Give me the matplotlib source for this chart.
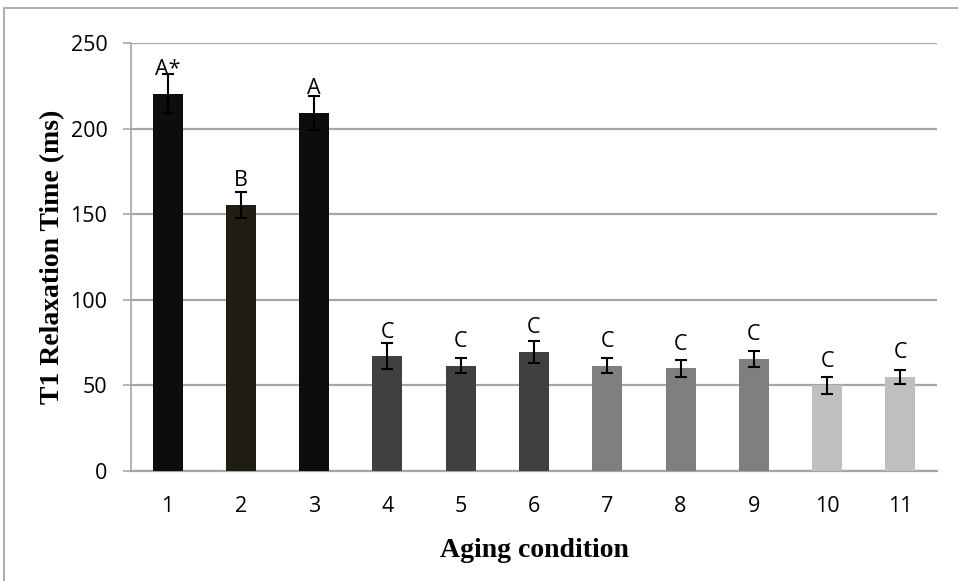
import matplotlib
matplotlib.use("Agg")
import matplotlib.pyplot as plt
from matplotlib.patches import Rectangle

# Data
conditions = ["1", "2", "3", "4", "5", "6", "7", "8", "9", "10", "11"]
t1_means = [220.5, 155.5, 209, 67, 61.5, 69.5, 61.5, 60, 65.5, 50, 55]
t1_errors = [11.5, 7.5, 10, 7.5, 4.5, 6.5, 4.5, 5, 4.5, 5, 4]
letters = ["A*", "B", "A", "C", "C", "C", "C", "C", "C", "C", "C"]
bar_colors = ["#0d0d0d", "#201d14", "#0d0d0d",
              "#404040", "#404040", "#404040",
              "#7f7f7f", "#7f7f7f", "#7f7f7f",
              "#bfbfbf", "#bfbfbf"]

grid_gray = "#a6a6a6"
label_font = "Open Sans"
title_font = "Liberation Serif"

fig = plt.figure(figsize=(9.58, 5.81), dpi=100)
ax = fig.add_axes([131 / 958, 1 - 471 / 581, (937 - 131) / 958, (471 - 43) / 581])

x = list(range(len(conditions)))
ax.bar(x, t1_means, width=0.41, color=bar_colors, zorder=3,
       yerr=t1_errors, error_kw=dict(ecolor="black", elinewidth=1.5,
                                     capsize=4.5, capthick=1.5, zorder=4))

# significance letters above each bar
for xi, val, lab in zip(x, t1_means, letters):
    ax.annotate(lab, (xi, val), xytext=(0, 13.5), textcoords="offset points",
                ha="center", va="baseline", fontsize=15.5, family=label_font,
                zorder=5)

ax.set_xlim(-0.5, len(conditions) - 0.5)
ax.set_ylim(0, 250)
ax.set_yticks([0, 50, 100, 150, 200, 250])
ax.set_xticks(x)
ax.set_xticklabels(conditions)

ax.yaxis.grid(True, color=grid_gray, linewidth=1.6, zorder=0)
ax.set_axisbelow(True)
for side in ["top", "right"]:
    ax.spines[side].set_visible(False)
ax.spines["left"].set_color(grid_gray)
ax.spines["bottom"].set_color(grid_gray)
ax.spines["left"].set_linewidth(1.2)
ax.spines["bottom"].set_linewidth(1.6)

ax.tick_params(axis="y", length=6, width=1.2, color=grid_gray, pad=11,
               labelsize=15.5)
ax.tick_params(axis="x", length=0, pad=18, labelsize=15.5)
for lbl in ax.get_xticklabels() + ax.get_yticklabels():
    lbl.set_fontfamily(label_font)

ax.set_xlabel("Aging condition", fontsize=20, fontweight="bold",
              family=title_font, labelpad=15)
ax.set_ylabel("T1 Relaxation Time (ms)", fontsize=20, fontweight="bold",
              family=title_font, labelpad=4)

# outer chart border
fig.patches.append(Rectangle((4 / 958, -0.1), 1.2, (581 - 8) / 581 + 0.1,
                             transform=fig.transFigure, fill=False,
                             edgecolor="#a0a0a0", linewidth=1.2))

fig.savefig("out.png", dpi=100)
